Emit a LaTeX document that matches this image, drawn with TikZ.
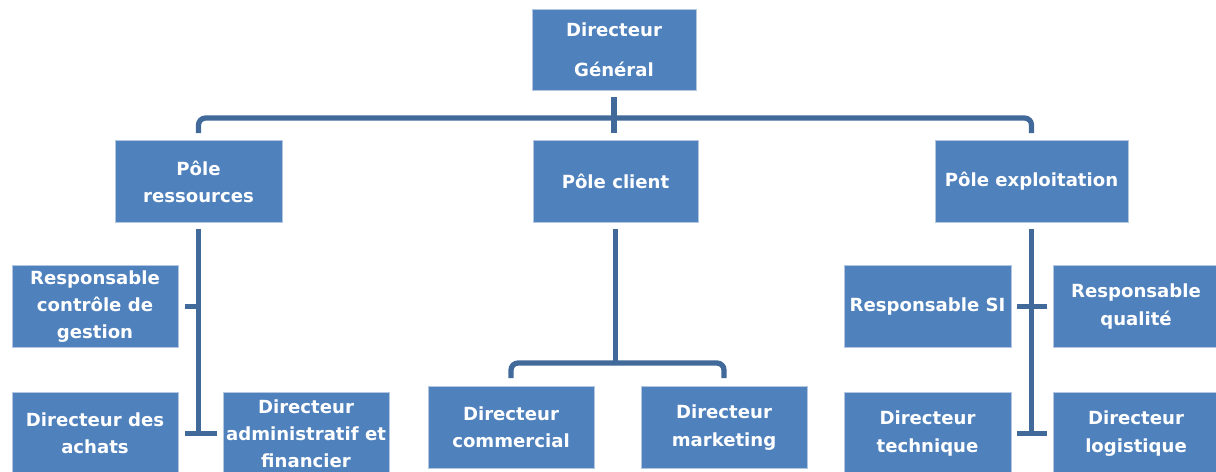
\documentclass[tikz,border=0pt]{standalone}
\usepackage{fontspec}
\setmainfont{DejaVu Sans}
\usepackage{tikz}
\usetikzlibrary{positioning}
\definecolor{boxblue}{HTML}{4F81BD}
\definecolor{linkblue}{HTML}{41699A}
\definecolor{edgeblue}{HTML}{B4C7E2}

\begin{document}
\begin{tikzpicture}[x=0.02cm, y=-0.02cm,
    box/.style={draw=edgeblue, line width=0.5pt, fill=boxblue, text=white,
        minimum width=3.32cm, minimum height=1.64cm, inner sep=0pt, align=center,
        font=\bfseries\fontsize{10.3}{15.5}\selectfont},
    link/.style={draw=linkblue, line width=3pt}]

                \useasboundingbox (0,0) rectangle (1216,471);
                \clip (0,0) rectangle (1216,471);

                % Nodes
                \node at (614,49.5) (dg) [box, minimum width=3.28cm, minimum height=1.62cm] {Directeur\\[7pt]Général};
                \node at (198.5,181.5) (res) [box, minimum width=3.34cm] {Pôle\\ressources};
                \node at (615.5,181.5) (cli) [box, minimum width=3.3cm] {Pôle client};
                \node at (1031.5,181.5) (exp) [box, minimum width=3.86cm] {Pôle exploitation};

                \node at (95,306.5) (rcg) [box] {Responsable\\contrôle de\\gestion};
                \node at (95,433.5) (ach) [box] {Directeur des\\achats};
                \node at (306,433.5) (daf) [box] {Directeur\\administratif et\\financier};

                \node at (511,427.5) (com) [box] {Directeur\\commercial};
                \node at (724,427.5) (mkt) [box] {Directeur\\marketing};

                \node at (927.5,306.5) (rsi) [box, minimum width=3.34cm] {Responsable SI};
                \node at (1136,306.5) (rq) [box] {Responsable\\qualité};
                \node at (927.5,433.5) (tec) [box, minimum width=3.34cm] {Directeur\\technique};
                \node at (1136,433.5) (log) [box] {Directeur\\logistique};

                \coordinate (bus) at (615,118);
                \coordinate (split) at (615.5,363);

                % Connectors
                \draw[link, shorten <=4pt, shorten >=4pt] (dg.south) -- (dg.south |- cli.north);
                \draw[link, rounded corners=4pt, shorten <=4pt, shorten >=4pt] (res.north) |- (bus) -| (exp.north);

                \draw[link, shorten <=3.4pt] (res.south) -- (res.south |- ach.east);
                \draw[link, shorten <=4pt] (rcg.east) -- (rcg.east -| res.south);
                \draw[link, shorten <=4pt, shorten >=3.4pt] (ach.east) -- (daf.west);

                \draw[link, shorten <=3.4pt] (cli.south) -- (split);
                \draw[link, rounded corners=4pt, shorten <=4.5pt, shorten >=4.5pt] (com.north) |- (split) -| (mkt.north);

                \draw[link, shorten <=3.4pt] (exp.south) -- (exp.south |- log.west);
                \draw[link, shorten <=3.4pt, shorten >=3.4pt] (rsi.east) -- (rq.west);
                \draw[link, shorten <=3.4pt, shorten >=3.4pt] (tec.east) -- (log.west);

\end{tikzpicture}
\end{document}
